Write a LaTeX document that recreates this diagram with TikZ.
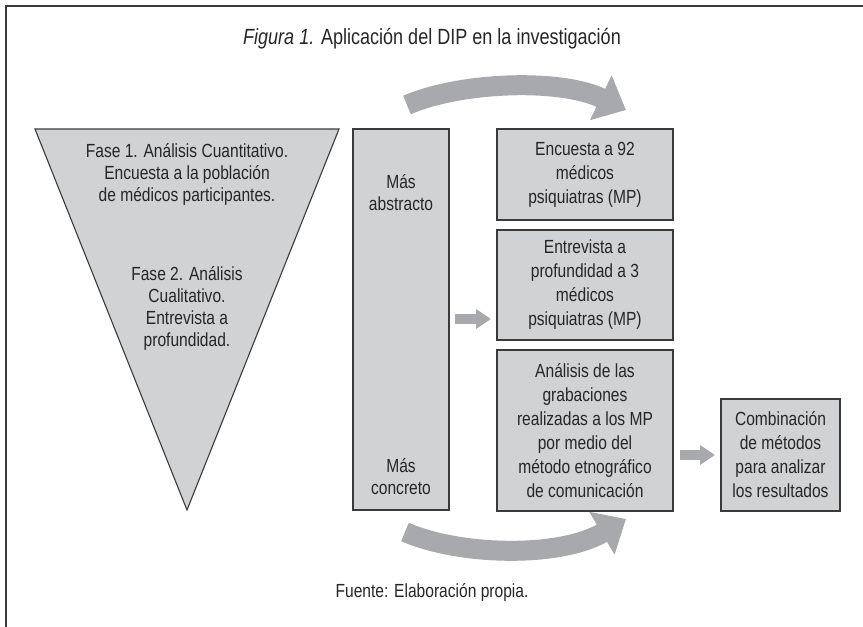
\documentclass[tikz,border=0pt]{standalone}
\usepackage{fontspec}
\setmainfont{Liberation Sans}[FakeStretch=0.82]
\usetikzlibrary{arrows.meta}
\definecolor{boxfill}{HTML}{D1D2D4}
\definecolor{arrowgray}{HTML}{A7A9AC}
\definecolor{edgegray}{HTML}{3A3A3A}
\tikzset{
  box/.style={draw=edgegray, line width=1.1pt, fill=boxfill, align=center, inner sep=0pt,
    font=\fontsize{19}{24}\selectfont, text=black!85},
  plain/.style={align=center, inner sep=0pt, font=\fontsize{19}{22}\selectfont, text=black!85},
  bigarc/.style={line width=20pt, draw=arrowgray, -{Triangle[length=28pt,width=48pt]}},
  smallarrow/.style={line width=10pt, draw=arrowgray, -{Triangle[length=15pt,width=19pt]}},
}
\begin{document}
\begin{tikzpicture}[x=1pt,y=-1pt]
\useasboundingbox (0,0) rectangle (863,627);
% frame
\draw[line width=1.6pt, draw=edgegray] (6,627) -- (6,6) -- (863,6);
% title
\node[plain, font=\fontsize{22}{26}\selectfont] (title) at (432,39) {\textit{Figura 1.} Aplicación del DIP en la investigación};
% triangle
\filldraw[draw=edgegray, line width=1.1pt, fill=boxfill] (35,129) -- (339,129) -- (187,510) -- cycle;
\node[plain] (fase1) at (187,174) {Fase 1. Análisis Cuantitativo.\\Encuesta a la población\\de médicos participantes.};
\node[plain] (fase2) at (187,308) {Fase 2. Análisis\\Cualitativo.\\Entrevista a\\profundidad.};
% column
\node[box, minimum width=96pt, minimum height=381pt] (col) at (401,319.5) {};
\node[plain] (abs) at (401,193) {Más\\abstracto};
\node[plain] (con) at (401,477) {Más\\concreto};
% right boxes
\node[box, minimum width=176pt, minimum height=91pt] (enc) at (585,174.5) {Encuesta a 92\\médicos\\psiquiatras (MP)};
\node[box, minimum width=176pt, minimum height=110pt] (ent) at (585,285) {Entrevista a\\profundidad a 3\\médicos\\psiquiatras (MP)};
\node[box, minimum width=176pt, minimum height=161pt] (ana) at (585,430.5) {Análisis de las\\grabaciones\\realizadas a los MP\\por medio del\\método etnográfico\\de comunicación};
\node[box, minimum width=119pt, minimum height=112pt] (comb) at (780.5,455) {Combinación\\de métodos\\para analizar\\los resultados};
% small arrows
\coordinate (s1a) at (455,319);
\coordinate (s1b) at (491,319);
\draw[smallarrow] (s1a) -- (s1b);
\coordinate (s2a) at (680,455);
\coordinate (s2b) at (715,455);
\draw[smallarrow] (s2a) -- (s2b);
% big arcs
\coordinate (t1) at (407,105);
\coordinate (t2) at (626,110);
\draw[bigarc] (t1) .. controls (460,82) and (560,78) .. (t2);
\coordinate (b1) at (405,532);
\coordinate (b2) at (626,519);
\draw[bigarc] (b1) .. controls (460,556) and (560,558) .. (b2);
% source
\node[plain] (src) at (432,592) {Fuente: Elaboración propia.};
\end{tikzpicture}
\end{document}
